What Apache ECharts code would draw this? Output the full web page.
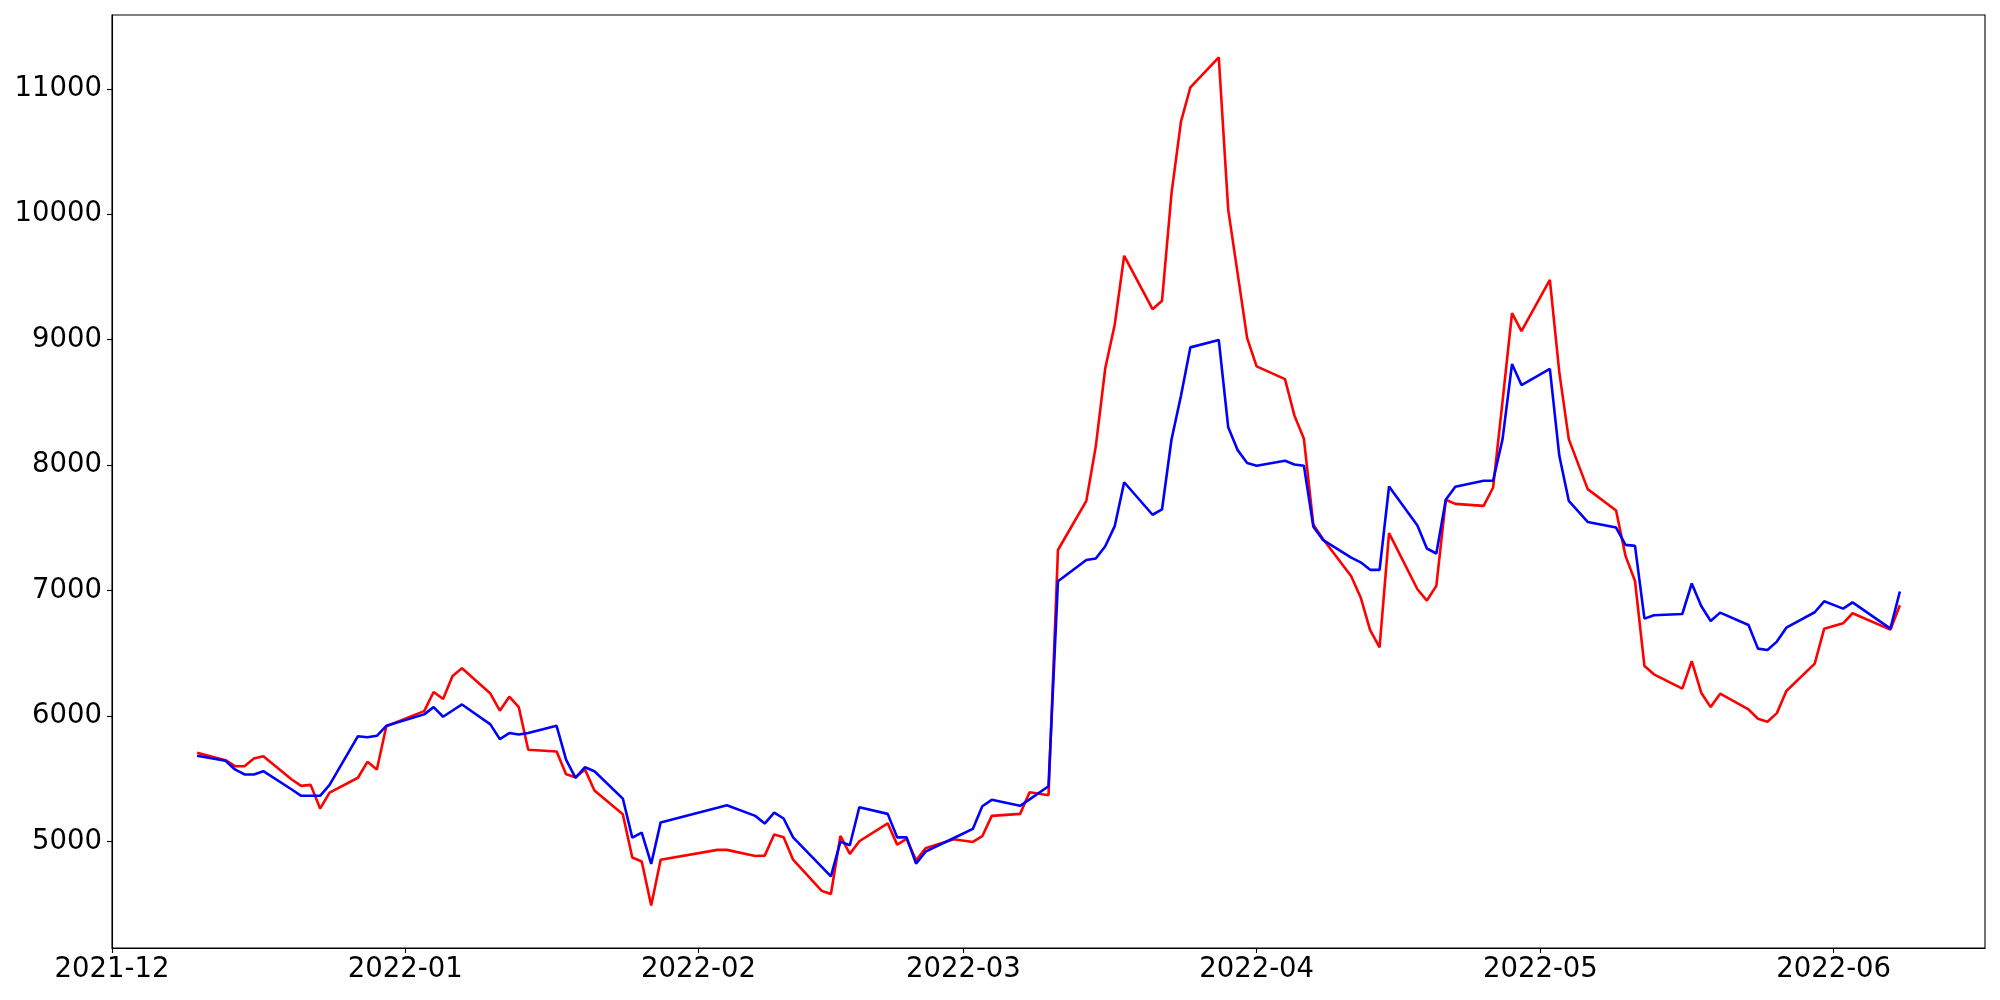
<!DOCTYPE html>
<html>
<head>
<meta charset="utf-8">
<script src="https://cdn.jsdelivr.net/npm/echarts@6/dist/echarts.min.js"></script>
<style>
  html, body { margin: 0; padding: 0; background: #ffffff; }
  #chart { width: 2000px; height: 1000px; }
</style>
</head>
<body>
<div id="chart"></div>
<script>
// ---- data ----
const dates = [
  '2021-12-10','2021-12-13','2021-12-14','2021-12-15','2021-12-16','2021-12-17',
  '2021-12-20','2021-12-21','2021-12-22','2021-12-23','2021-12-24',
  '2021-12-27','2021-12-28','2021-12-29','2021-12-30',
  '2022-01-03','2022-01-04','2022-01-05','2022-01-06','2022-01-07',
  '2022-01-10','2022-01-11','2022-01-12','2022-01-13','2022-01-14',
  '2022-01-17','2022-01-18','2022-01-19','2022-01-20','2022-01-21',
  '2022-01-24','2022-01-25','2022-01-26','2022-01-27','2022-01-28',
  '2022-02-03','2022-02-04',
  '2022-02-07','2022-02-08','2022-02-09','2022-02-10','2022-02-11',
  '2022-02-14','2022-02-15','2022-02-16','2022-02-17','2022-02-18',
  '2022-02-21','2022-02-22','2022-02-23','2022-02-24','2022-02-25',
  '2022-02-28','2022-03-02','2022-03-03','2022-03-04',
  '2022-03-07','2022-03-08','2022-03-10','2022-03-11',
  '2022-03-14','2022-03-15','2022-03-16','2022-03-17','2022-03-18',
  '2022-03-21','2022-03-22','2022-03-23','2022-03-24','2022-03-25',
  '2022-03-28','2022-03-29','2022-03-30','2022-03-31','2022-04-01',
  '2022-04-04','2022-04-05','2022-04-06','2022-04-07','2022-04-08',
  '2022-04-11','2022-04-12','2022-04-13','2022-04-14','2022-04-15',
  '2022-04-18','2022-04-19','2022-04-20','2022-04-21','2022-04-22',
  '2022-04-25','2022-04-26','2022-04-27','2022-04-28','2022-04-29',
  '2022-05-02','2022-05-03','2022-05-04','2022-05-06',
  '2022-05-09','2022-05-10','2022-05-11','2022-05-12','2022-05-13',
  '2022-05-16','2022-05-17','2022-05-18','2022-05-19','2022-05-20',
  '2022-05-23','2022-05-24','2022-05-25','2022-05-26','2022-05-27',
  '2022-05-30','2022-05-31','2022-06-02','2022-06-03',
  '2022-06-07','2022-06-08'
];

const redValues = [
  5708, 5649, 5601, 5601, 5662, 5681,
  5495, 5444, 5452, 5263, 5391,
  5509, 5636, 5575, 5920,
  6040, 6192, 6136, 6319, 6381,
  6180, 6043, 6155, 6072, 5732,
  5718, 5537, 5513, 5575, 5407,
  5218, 4873, 4841, 4490, 4855,
  4934, 4934,
  4885, 4888, 5056, 5034, 4856,
  4609, 4582, 5045, 4902, 5003,
  5146, 4976, 5021, 4851, 4947,
  5019, 4997, 5043, 5205,
  5221, 5394, 5370, 7324,
  7716, 8150, 8772, 9120, 9669,
  9243, 9310, 10164, 10736, 11012,
  11250, 10035, 9525, 9013, 8788,
  8686, 8395, 8210, 7525, 7414,
  7115, 6946, 6686, 6548, 7458,
  7011, 6921, 7038, 7724, 7692,
  7676, 7822, 8510, 9212, 9069,
  9477, 8740, 8208, 7809,
  7639, 7277, 7077, 6399, 6333,
  6219, 6439, 6187, 6072, 6179,
  6053, 5979, 5955, 6024, 6200,
  6418, 6697, 6740, 6820,
  6689, 6883
];

const blueValues = [
  5684, 5644, 5575, 5535, 5535, 5561,
  5415, 5365, 5365, 5365, 5452,
  5840, 5832, 5843, 5923,
  6014, 6072, 5995, 6045, 6093,
  5934, 5817, 5865, 5854, 5865,
  5923, 5654, 5508, 5593, 5561,
  5343, 5032, 5072, 4822, 5153,
  5270, 5290,
  5205, 5144, 5231, 5184, 5034,
  4801, 4723, 5000, 4971, 5274,
  5221, 5034, 5034, 4824, 4920,
  5029, 5101, 5282, 5333,
  5285, 5337, 5441, 7075,
  7244, 7256, 7354, 7514, 7864,
  7605, 7647, 8203, 8551, 8939,
  8998, 8302, 8120, 8018, 7996,
  8035, 8006, 7996, 7509, 7405,
  7263, 7226, 7166, 7166, 7830,
  7520, 7336, 7296, 7724, 7828,
  7876, 7876, 8208, 8807, 8639,
  8767, 8075, 7716, 7548,
  7503, 7365, 7357, 6777, 6804,
  6814, 7057, 6878, 6758, 6825,
  6726, 6538, 6527, 6594, 6705,
  6828, 6915, 6857, 6907,
  6697, 6993
];

const yTicks = [5000, 6000, 7000, 8000, 9000, 10000, 11000];
const xTickMonths = ['2021-12', '2022-01', '2022-02', '2022-03', '2022-04', '2022-05', '2022-06'];
const xMinDate = '2021-12-01';
const xMaxDate = '2022-06-17';
const yMin = 4152;
const yMax = 11588;

// ---- helpers ----
function toTs(s) {
  const p = s.split('-').map(Number);
  return new Date(p[0], p[1] - 1, p[2] || 1).getTime();
}
function pad2(n) { return (n < 10 ? '0' : '') + n; }

const redData = dates.map((d, i) => [toTs(d), redValues[i]]);
const blueData = dates.map((d, i) => [toTs(d), blueValues[i]]);
const xTickValues = xTickMonths.map(toTs);

const FONT = 'DejaVu Sans';
const chart = echarts.init(document.getElementById('chart'), null, { renderer: 'canvas' });
chart.setOption({
  animation: false,
  backgroundColor: '#ffffff',
  grid: {
    left: 112, right: 15, top: 15, bottom: 52,
    show: true, borderColor: '#000000', borderWidth: 1.1,
    backgroundColor: 'transparent',
    outerBoundsMode: 'none'
  },
  xAxis: {
    type: 'value',
    min: toTs(xMinDate),
    max: toTs(xMaxDate),
    splitLine: { show: false },
    axisLine: { show: true, lineStyle: { color: '#000', width: 1.1 } },
    axisTick: { show: true, inside: false, length: 5, lineStyle: { color: '#000', width: 1.1 }, customValues: xTickValues },
    axisLabel: {
      customValues: xTickValues,
      color: '#000', fontFamily: FONT, fontSize: 27.5, margin: 8,
      hideOverlap: false,
      formatter: function (v) {
        const d = new Date(v);
        return d.getFullYear() + '-' + pad2(d.getMonth() + 1);
      }
    }
  },
  yAxis: {
    type: 'value',
    min: yMin,
    max: yMax,
    splitLine: { show: false },
    axisLine: { show: true, lineStyle: { color: '#000', width: 1.1 } },
    axisTick: { show: true, inside: false, length: 5, lineStyle: { color: '#000', width: 1.1 }, customValues: yTicks },
    axisLabel: {
      customValues: yTicks,
      color: '#000', fontFamily: FONT, fontSize: 27.5, margin: 10,
      formatter: function (v) { return String(v); }
    }
  },
  series: [
    {
      type: 'line', data: redData, showSymbol: false, symbol: 'none',
      lineStyle: { color: '#ff0000', width: 2.6 }, itemStyle: { color: '#ff0000' },
      z: 2
    },
    {
      type: 'line', data: blueData, showSymbol: false, symbol: 'none',
      lineStyle: { color: '#0000ff', width: 2.6 }, itemStyle: { color: '#0000ff' },
      z: 3
    }
  ]
});
</script>
</body>
</html>
